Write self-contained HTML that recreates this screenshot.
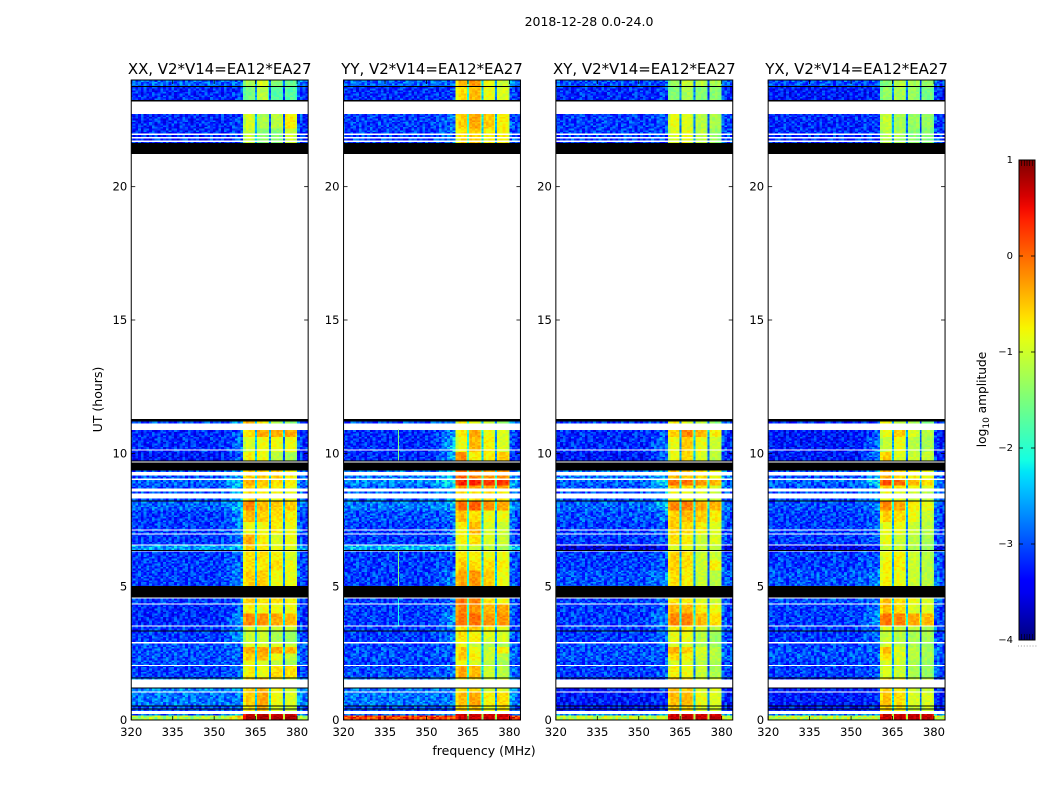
<!DOCTYPE html>
<html lang="en">
<head>
<meta charset="utf-8">
<title>2018-12-28 waterfall</title>
<style>
html,body{margin:0;padding:0;background:#fff;}
svg{display:block;font-family:"DejaVu Sans","Liberation Sans",sans-serif;fill:#000;}
</style>
</head>
<body>
<svg id="chart" xmlns="http://www.w3.org/2000/svg" width="1050" height="800" viewBox="0 0 1050 800">
  <defs>
    <linearGradient id="jet-gradient" x1="0" y1="1" x2="0" y2="0"></linearGradient>
  </defs>
  <rect x="0" y="0" width="1050" height="800" fill="#fff"/>
  <text x="589" y="26" font-size="12.5" text-anchor="middle">2018-12-28 0.0-24.0</text>
  <text x="484" y="755" font-size="12.5" text-anchor="middle">frequency (MHz)</text>
  <text transform="translate(102,399.5) rotate(-90)" font-size="12.5" text-anchor="middle">UT (hours)</text>
  <text transform="translate(986,399.5) rotate(-90)" font-size="12.2" text-anchor="middle">log<tspan font-size="9" dy="3">10</tspan><tspan dy="-3"> amplitude</tspan></text>
  <g id="panels"></g>
  <g id="colorbar"></g>
</svg>
<script>
// ---------- data ----------
const panelTitles = ["XX, V2*V14=EA12*EA27", "YY, V2*V14=EA12*EA27", "XY, V2*V14=EA12*EA27", "YX, V2*V14=EA12*EA27"];
const xTickValues = [320, 335, 350, 365, 380];
const yTickValues = [0, 5, 10, 15, 20];
const colorbarTickValues = [1, 0, -1, -2, -3, -4];

// Lower edge (UT hours) of each time block, top of plot downward
const blockBottoms = [23.73, 23.21, 22.19, 21.63, 10.90, 10.60, 10.04, 9.74, 9.06, 8.84, 8.65, 8.24, 7.86, 7.41, 7.00, 6.55, 6.36, 5.99, 5.61, 5.01, 4.37, 4.03, 3.55, 3.36, 2.92, 2.72, 2.53, 2.23, 2.05, 1.59, 1.07, 0.54, 0.32, 0.17, 0];

// log10 amplitude per block: [floor, edge near 360 MHz, band1, band2, band3, band4]
const levelsXX = [
[-2.8,-2.8,-1.2,-0.9,-1.4,-1.6],[-3.1,-3.0,-1.5,-1.1,-1.7,-1.7],[-3.1,-3.0,-0.9,-1.2,-1.1,-0.7],[-3.1,-3.0,-1.0,-1.4,-1.4,-1.0],
[-2.9,-2.5,-0.3,-0.7,-1.1,-1.4],[-3.1,-2.8,-0.6,-0.3,-0.3,-0.3],[-3.1,-2.7,-0.9,-0.8,-0.8,-0.8],[-3.2,-2.8,-0.7,-0.8,-1.1,-1.2],
[-2.9,-2.4,-0.5,-0.5,-0.5,-0.7],[-2.8,-2.2,-0.3,-0.5,-0.6,-0.7],[-2.9,-2.3,-0.5,-0.6,-0.7,-0.8],[-2.9,-2.3,-0.6,-0.7,-0.8,-0.8],
[-2.8,-2.3,-0.1,-0.4,-0.5,-0.5],[-3.0,-2.5,-0.4,-0.5,-0.6,-0.7],[-3.0,-2.6,-0.8,-0.8,-0.7,-0.8],[-3.0,-2.7,-0.3,-0.7,-0.9,-0.8],
[-2.5,-2.4,-0.5,-0.7,-0.8,-0.9],[-3.0,-2.8,-0.6,-0.6,-0.7,-0.9],[-3.0,-2.7,-0.6,-0.7,-0.6,-0.8],[-3.0,-2.6,-0.5,-0.5,-0.8,-0.8],
[-3.0,-2.8,-0.5,-0.6,-0.6,-0.7],[-3.1,-2.8,-0.7,-0.8,-0.8,-0.8],[-3.1,-2.5,-0.1,-0.2,-0.3,-0.4],[-3.0,-2.7,-0.9,-0.9,-1.0,-1.0],
[-3.0,-2.5,-1.0,-1.0,-1.2,-1.3],[-2.9,-2.7,-0.9,-0.9,-0.9,-1.0],[-2.9,-2.8,-0.3,-0.3,-0.3,-0.4],[-2.9,-2.8,-0.5,-0.4,-0.8,-1.0],
[-2.9,-2.8,-0.8,-0.9,-1.1,-1.2],[-3.0,-2.7,-0.7,-0.8,-0.6,-0.6],[-2.6,-2.6,-0.5,-0.4,-0.7,-1.0],[-2.7,-2.7,-0.5,-0.3,-0.8,-0.9],
[-2.9,-2.8,-0.6,-0.4,-0.9,-1.0],[-2.8,-2.3,0.7,0.7,0.7,0.7],[-1.1,-0.5,0.85,0.85,0.85,0.85]];
const levelsYY = [
[-2.8,-2.7,-0.4,-0.2,-0.8,-1.0],[-3.1,-3.0,-0.6,-0.4,-0.8,-0.9],[-3.0,-2.7,-0.5,-0.3,-0.5,-0.7],[-3.0,-2.7,-0.6,-0.5,-0.7,-0.7],
[-2.9,-2.5,-0.7,-0.8,-1.1,-1.3],[-3.1,-2.5,-0.7,-0.3,-0.8,-0.9],[-3.1,-2.3,-0.8,-0.4,-0.7,-0.9],[-3.1,-2.4,-0.1,-0.7,-0.7,-0.5],
[-2.7,-2.3,0.1,-0.1,-0.2,-0.2],[-2.6,-2.0,0.4,0.4,0.3,0.3],[-2.8,-2.3,-0.2,-0.3,-0.3,-0.3],[-2.8,-2.4,-0.6,-0.6,-0.6,-0.7],
[-2.7,-2.4,0.0,0.1,-0.2,-0.3],[-2.9,-2.7,-0.4,-0.6,-0.8,-0.8],[-3.0,-2.8,-0.7,-0.4,-0.9,-1.0],[-3.0,-2.8,-0.7,-0.6,-0.9,-1.0],
[-2.4,-2.4,-1.0,-1.0,-1.1,-1.2],[-3.0,-2.9,-0.6,-0.7,-0.8,-0.8],[-3.0,-2.9,-0.5,-0.6,-0.6,-0.7],[-3.0,-2.6,-0.3,-0.2,-0.5,-0.8],
[-3.0,-2.8,0.0,-0.1,-0.6,-0.8],[-3.0,-2.7,-0.1,-0.2,-0.4,-0.3],[-3.0,-2.5,0.0,0.0,-0.2,-0.2],[-3.0,-2.7,-0.6,-0.5,-0.7,-0.9],
[-3.0,-2.6,-0.6,-0.7,-0.9,-0.9],[-3.0,-2.8,-0.8,-1.0,-1.2,-1.2],[-2.9,-2.8,-0.5,-0.8,-1.0,-0.7],[-2.9,-2.8,-0.5,-0.7,-1.0,-1.1],
[-3.0,-2.9,-0.8,-0.9,-1.1,-1.2],[-2.9,-2.7,-0.3,-0.4,-1.0,-1.1],[-2.7,-2.7,-0.7,-0.6,-1.0,-0.9],[-2.7,-2.7,-0.4,-0.3,-0.7,-0.6],
[-2.9,-2.9,-0.5,-0.5,-0.8,-0.7],[-2.8,-2.5,0.75,0.7,0.7,0.7],[0.3,0.3,0.7,0.7,0.7,0.7]];
const levelsXY = [
[-2.9,-2.9,-1.3,-1.0,-1.1,-1.2],[-3.1,-3.0,-1.4,-1.2,-1.4,-1.4],[-3.0,-2.9,-0.8,-0.9,-1.1,-1.2],[-3.0,-2.9,-0.9,-0.8,-1.1,-1.3],
[-3.0,-2.8,-0.7,-0.9,-1.1,-1.4],[-3.1,-2.8,-0.5,-0.1,-0.4,-0.7],[-3.1,-2.7,-0.8,-0.5,-0.8,-1.0],[-3.2,-2.8,-0.8,-0.6,-0.9,-1.1],
[-2.7,-2.4,-0.4,-0.5,-0.6,-0.8],[-2.8,-2.0,0.0,0.0,-0.2,-0.4],[-2.9,-2.4,-0.5,-0.6,-0.7,-0.9],[-2.9,-2.5,-0.8,-0.8,-0.9,-1.0],
[-2.8,-2.3,-0.1,-0.1,-0.3,-0.4],[-2.9,-2.7,-0.5,-0.4,-0.5,-0.7],[-3.0,-2.9,-0.5,-0.6,-0.7,-0.9],[-3.0,-2.9,-0.6,-0.7,-1.0,-0.9],
[-3.5,-3.3,-0.9,-0.9,-1.0,-1.1],[-3.0,-2.8,-0.5,-0.6,-1.0,-1.0],[-3.0,-2.8,-0.5,-0.6,-1.0,-0.7],[-2.9,-2.6,-0.6,-0.7,-1.0,-1.1],
[-3.0,-2.8,-0.6,-0.7,-0.9,-1.0],[-3.0,-2.8,-0.4,-0.4,-0.7,-0.8],[-3.0,-2.6,-0.1,-0.1,-0.4,-0.6],[-3.0,-2.8,-0.7,-0.7,-0.9,-1.1],
[-3.0,-2.7,-0.8,-0.8,-1.1,-1.3],[-2.9,-2.8,-0.9,-1.0,-1.2,-1.3],[-2.9,-2.8,-0.3,-0.5,-0.9,-1.1],[-2.9,-2.8,-0.6,-0.7,-1.0,-1.1],
[-3.0,-2.9,-0.9,-0.9,-1.1,-1.2],[-3.0,-2.8,-0.7,-0.8,-1.0,-1.2],[-3.2,-3.0,-0.4,-0.5,-0.9,-0.9],[-3.2,-3.1,-0.4,-0.4,-0.8,-0.9],
[-3.2,-3.1,-0.5,-0.6,-0.9,-1.0],[-2.6,-2.5,0.65,0.65,0.65,0.65],[-1.0,-0.9,0.75,0.75,0.75,0.75]];
const levelsYX = [
[-2.9,-2.9,-1.4,-1.1,-1.2,-1.3],[-3.2,-3.1,-1.3,-1.2,-1.3,-1.5],[-3.1,-3.0,-1.0,-1.2,-1.3,-1.3],[-3.1,-3.0,-1.1,-1.2,-1.4,-1.4],
[-3.1,-2.9,-0.7,-1.0,-1.2,-1.4],[-3.2,-2.8,-0.8,-0.5,-0.9,-1.1],[-3.2,-2.7,-1.0,-0.8,-1.1,-1.2],[-3.2,-2.6,-0.5,-0.9,-1.0,-1.0],
[-2.9,-2.4,-0.3,-0.6,-0.7,-0.8],[-2.8,-2.1,0.2,0.0,-0.4,-0.6],[-2.9,-2.5,-0.5,-0.6,-0.8,-0.9],[-2.9,-2.5,-0.8,-0.9,-1.0,-1.1],
[-2.9,-2.6,-0.1,-0.3,-0.7,-0.8],[-3.0,-2.8,-0.5,-0.6,-0.8,-1.0],[-3.0,-2.8,-0.8,-0.8,-1.0,-1.1],[-3.0,-2.8,-0.8,-1.0,-1.1,-1.2],
[-3.4,-3.2,-1.0,-1.0,-1.2,-1.3],[-3.0,-2.8,-0.8,-0.7,-1.0,-1.1],[-3.0,-2.8,-0.7,-0.7,-1.0,-1.1],[-2.9,-2.6,-0.7,-0.8,-1.0,-1.1],
[-2.9,-2.7,-0.4,-0.6,-0.8,-0.9],[-3.0,-2.7,-0.4,-0.6,-0.9,-0.9],[-3.0,-2.5,0.0,-0.1,-0.3,-0.4],[-3.0,-2.7,-0.9,-1.0,-1.1,-1.2],
[-3.0,-2.7,-1.0,-1.1,-1.2,-1.2],[-3.0,-2.8,-0.9,-1.1,-1.2,-1.3],[-2.9,-2.8,-0.4,-0.9,-1.1,-1.2],[-2.9,-2.8,-0.6,-0.9,-1.1,-1.2],
[-3.0,-2.9,-0.9,-1.0,-1.2,-1.3],[-3.0,-2.8,-0.9,-1.0,-1.2,-1.3],[-3.2,-3.1,-0.5,-0.7,-1.0,-1.0],[-3.2,-3.1,-0.4,-0.6,-0.9,-0.9],
[-3.2,-3.1,-0.5,-0.7,-1.0,-1.0],[-2.7,-2.5,0.7,0.7,0.7,0.7],[-1.0,-1.0,0.75,0.75,0.75,0.75]];
const panelLevels = [levelsXX, levelsYY, levelsXY, levelsYX];

// Channel-gap level (log10) at the three sub-band boundaries, per panel
const gapFrequencies = [365.1, 370.2, 375.2];
const gapLevels = [[-2.4,-2.8,-2.8],[-2.0,-2.4,-2.6],[-2.6,-2.7,-2.9],[-2.5,-2.7,-2.8]];
const bandEdges = [360.5, 365, 370, 375, 380];

// Narrow interference line in YY: panel, MHz, level, UT top, UT bottom
const rfiPanel = [1, 1, 1, 1];
const rfiFrequency = [339.7, 339.7, 339.7, 339.7];
const rfiLevel = [-1.5, -1.5, -1.7, -2.1];
const rfiTop = [10.9, 6.36, 5.02, 4.6];
const rfiBottom = [9.74, 5.02, 4.6, 3.55];

// Flagged time ranges (UT hours) [top, bottom]
const flagsWhite = [[23.19,22.72],[21.98,21.93],[21.86,21.82],[21.73,21.67],[21.22,11.29],[11.10,10.90],[10.15,10.11],[9.70,9.66],[9.29,9.17],[9.06,9.02],[8.66,8.57],[8.47,8.30],[7.14,7.11],[7.00,6.97],[6.59,6.55],[4.37,4.35],[3.55,3.52],[2.91,2.88],[2.07,2.05],[1.52,1.44],[1.42,1.26],[1.07,1.04],[0.33,0.23]];
const flagsBlack = [[23.77,23.73],[23.25,23.19],[21.64,21.22],[11.29,11.20],[9.74,9.70],[9.66,9.36],[8.24,8.21],[6.37,6.34],[5.02,4.59],[3.36,3.33],[1.59,1.57],[1.22,1.19],[0.54,0.52],[0.44,0.42]];

// Estimated speckle residuals read as digits 0-9 (centre 5.5 leaves the floor slightly deep)
const speckleTile = [
"47261938504726193058471629384",
"83150472968315072496183057294",
"25794160382579406138257941603",
"61038527496103852749610385274",
"39472816053947281605394728160",
"70516394287051639428705163942",
"14829057361482905736148290573",
"58360741925836074192583607419",
"92647130589264713058926471305",
"36081495723608149572360814957",
"74915268037491526803749152680",
"07352894160735289416073528941",
"51684023795168402379516840237",
"28407619352840761935284076193",
"63190782456319078245631907824",
"85726341098572634109857263410",
"19543870621954387062195438706"];

// ---------- axis helpers ----------
const NS = "http://www.w3.org/2000/svg";
const panelLefts = [131.25, 343.55, 555.85, 768.15];
const panelWidth = 176.9;
const plotTop = 80, plotBottom = 720;
const rowStep = 0.0625;
function xScale(panel, mhz){ return panelLefts[panel] + (mhz - 320) / 64 * panelWidth; }
function yScale(hours){ return plotBottom - hours / 24 * (plotBottom - plotTop); }
function cbScale(v){ return 640 - (v + 4) / 5 * 480; }
function ramp(t, pts){
  for (let i = 1; i < pts.length; i++) {
    if (t <= pts[i][0]) {
      const a = pts[i-1], b = pts[i];
      return a[1] + (b[1]-a[1]) * (t-a[0]) / (b[0]-a[0]);
    }
  }
  return pts[pts.length-1][1];
}
function jet(t){
  t = Math.max(0, Math.min(1, t));
  const r = ramp(t, [[0,0],[0.35,0],[0.66,1],[0.89,1],[1,0.5]]);
  const g = ramp(t, [[0,0],[0.125,0],[0.375,1],[0.64,1],[0.91,0],[1,0]]);
  const b = ramp(t, [[0,0.5],[0.11,1],[0.34,1],[0.65,0],[1,0]]);
  return "rgb(" + Math.round(r*255) + "," + Math.round(g*255) + "," + Math.round(b*255) + ")";
}
function levelColor(v){ return jet((v + 4) / 5); }
function blockIndexAt(h){
  for (let i = 0; i < blockBottoms.length; i++) { if (h >= blockBottoms[i]) return i; }
  return blockBottoms.length - 1;
}
function isFlagged(h){
  const inside = function(f){ return h <= f[0] && h >= f[1]; };
  return flagsWhite.some(inside) || flagsBlack.some(inside);
}
function speckle(row, col, panel){
  const line = speckleTile[(row + panel * 7) % speckleTile.length];
  const ch = line.charCodeAt((col + panel * 5 + (row % 3) * 11) % line.length) - 48;
  return (ch - 5.5) * 0.095;
}
function cellLevel(block, mhz, row, col, panel){
  const v = block, n = speckle(row, col, panel);
  if (mhz < 352) return v[0] + n;
  if (mhz < bandEdges[0]) return v[0] + (v[1] - v[0]) * (mhz - 352) / (bandEdges[0] - 352) + n;
  if (mhz < bandEdges[4]) {
    let k = 0;
    while (mhz >= bandEdges[k + 1]) k++;
    const nearEdge = (mhz - bandEdges[k] < 0.8 || bandEdges[k + 1] - mhz < 0.8) ? 0.2 : 0;
    return v[2 + k] - nearEdge + n * 0.35;
  }
  return v[0] + (mhz < 382 ? 0.15 : 0) + n;
}
// Channel boundaries: 1 MHz wide, aligned so a boundary falls on 360.5 and on 380
function channelEdges(){
  const edges = [320];
  for (let f = 320.5; f < 380; f += 1) edges.push(f);
  for (let f = 380; f <= 384; f += 1) edges.push(f);
  return edges;
}

// ---------- drawing ----------
const panelsRoot = document.getElementById("panels");
const frag = document.createDocumentFragment();
const columns = channelEdges();

panelTitles.forEach(function(title, p){
  const g = document.createElementNS(NS, "g");
  
  

  const cells = document.createElementNS(NS, "g");
  
  
  cells.setAttribute("shape-rendering", "crispEdges");

  const rows = Math.round(24 / rowStep);
  for (let r = 0; r < rows; r++) {
    const hBottom = r * rowStep, hTop = hBottom + rowStep, hMid = hBottom + rowStep / 2;
    if (isFlagged(hMid)) continue;
    const block = panelLevels[p][blockIndexAt(hMid)];
    const yTop = yScale(hTop), rowH = yScale(hBottom) - yTop;
    for (let c = 0; c + 1 < columns.length; c++) {
      const f0 = columns[c], f1 = columns[c + 1];
      const level = cellLevel(block, (f0 + f1) / 2, r, c, p);
      const cell = document.createElementNS(NS, "rect");
      
      
      cell.setAttribute("x", xScale(p, f0).toFixed(2));
      cell.setAttribute("y", yTop.toFixed(2));
      cell.setAttribute("width", (xScale(p, f1) - xScale(p, f0) + 0.3).toFixed(2));
      cell.setAttribute("height", (rowH + 0.3).toFixed(2));
      cell.setAttribute("fill", levelColor(level));
      cells.appendChild(cell);
    }
    gapFrequencies.forEach(function(f, k){
      const bandValue = block[2 + k];
      const level = Math.max(gapLevels[p][k] + 0.25 * (bandValue + 0.8), bandValue - 1.9) + speckle(r, k * 9, p) * 0.5;
      const gap = document.createElementNS(NS, "rect");
      
      
      gap.setAttribute("x", xScale(p, f - 0.35).toFixed(2));
      gap.setAttribute("y", yTop.toFixed(2));
      gap.setAttribute("width", (xScale(p, f + 0.35) - xScale(p, f - 0.35)).toFixed(2));
      gap.setAttribute("height", (rowH + 0.3).toFixed(2));
      gap.setAttribute("fill", levelColor(level));
      cells.appendChild(gap);
    });
  }

  rfiPanel.forEach(function(owner, i){
    if (owner !== p) return;
    const line = document.createElementNS(NS, "rect");
    
    
    line.setAttribute("x", xScale(p, rfiFrequency[i]).toFixed(2));
    line.setAttribute("y", yScale(rfiTop[i]).toFixed(2));
    line.setAttribute("width", "1");
    line.setAttribute("height", (yScale(rfiBottom[i]) - yScale(rfiTop[i])).toFixed(2));
    line.setAttribute("fill", levelColor(rfiLevel[i]));
    cells.appendChild(line);
  });

  [[flagsWhite, "#fff", "flag-white"], [flagsBlack, "#000", "flag-black"]].forEach(function(spec){
    spec[0].forEach(function(f){
      const flag = document.createElementNS(NS, "rect");
      
      
      flag.setAttribute("x", panelLefts[p].toFixed(2));
      flag.setAttribute("y", yScale(f[0]).toFixed(2));
      flag.setAttribute("width", panelWidth.toFixed(2));
      flag.setAttribute("height", Math.max(1, yScale(f[1]) - yScale(f[0])).toFixed(2));
      flag.setAttribute("fill", spec[1]);
      cells.appendChild(flag);
    });
  });
  g.appendChild(cells);

  const frame = document.createElementNS(NS, "rect");
  
  
  frame.setAttribute("x", panelLefts[p]);
  frame.setAttribute("y", plotTop);
  frame.setAttribute("width", panelWidth);
  frame.setAttribute("height", plotBottom - plotTop);
  frame.setAttribute("fill", "none");
  frame.setAttribute("stroke", "#000");
  frame.setAttribute("stroke-width", "1");
  g.appendChild(frame);

  xTickValues.forEach(function(v){
    const x = xScale(p, v);
    [[plotBottom, plotBottom - 4], [plotTop, plotTop + 4]].forEach(function(pair){
      const tick = document.createElementNS(NS, "line");
      
      
      tick.setAttribute("x1", x);
      tick.setAttribute("x2", x);
      tick.setAttribute("y1", pair[0]);
      tick.setAttribute("y2", pair[1]);
      tick.setAttribute("stroke", "#000");
      tick.setAttribute("stroke-width", "0.8");
      g.appendChild(tick);
    });
    const label = document.createElementNS(NS, "text");
    
    
    label.setAttribute("x", x);
    label.setAttribute("y", 736);
    label.setAttribute("font-size", "11.6");
    label.setAttribute("text-anchor", "middle");
    label.textContent = String(v);
    g.appendChild(label);
  });

  yTickValues.forEach(function(v){
    const y = yScale(v);
    [[panelLefts[p], panelLefts[p] + 4], [panelLefts[p] + panelWidth, panelLefts[p] + panelWidth - 4]].forEach(function(pair){
      const tick = document.createElementNS(NS, "line");
      
      
      tick.setAttribute("x1", pair[0]);
      tick.setAttribute("x2", pair[1]);
      tick.setAttribute("y1", y);
      tick.setAttribute("y2", y);
      tick.setAttribute("stroke", "#000");
      tick.setAttribute("stroke-width", "0.8");
      g.appendChild(tick);
    });
    const label = document.createElementNS(NS, "text");
    
    
    label.setAttribute("x", panelLefts[p] - 4);
    label.setAttribute("y", y + 4);
    label.setAttribute("font-size", "11.6");
    label.setAttribute("text-anchor", "end");
    label.textContent = String(v);
    g.appendChild(label);
  });

  const titleEl = document.createElementNS(NS, "text");
  
  
  titleEl.setAttribute("x", panelLefts[p] + panelWidth / 2);
  titleEl.setAttribute("y", 74);
  titleEl.setAttribute("font-size", "14.95");
  titleEl.setAttribute("text-anchor", "middle");
  titleEl.textContent = title;
  g.appendChild(titleEl);

  frag.appendChild(g);
});
panelsRoot.appendChild(frag);

// ---------- colorbar ----------
const gradient = document.getElementById("jet-gradient");
for (let i = 0; i <= 40; i++) {
  const stop = document.createElementNS(NS, "stop");
  stop.setAttribute("offset", (i / 40).toFixed(3));
  stop.setAttribute("stop-color", jet(i / 40));
  gradient.appendChild(stop);
}
const cbRoot = document.getElementById("colorbar");
const cbLeft = 1019, cbRight = 1035;
const cbBar = document.createElementNS(NS, "rect");


cbBar.setAttribute("x", cbLeft);
cbBar.setAttribute("y", cbScale(1));
cbBar.setAttribute("width", cbRight - cbLeft);
cbBar.setAttribute("height", cbScale(-4) - cbScale(1));
cbBar.setAttribute("fill", "url(#jet-gradient)");
cbBar.setAttribute("stroke", "#000");
cbBar.setAttribute("stroke-width", "1");
cbRoot.appendChild(cbBar);

colorbarTickValues.forEach(function(v){
  const y = cbScale(v);
  [[cbLeft, cbLeft + 4], [cbRight, cbRight - 4]].forEach(function(pair){
    const tick = document.createElementNS(NS, "line");
    
    
    tick.setAttribute("x1", pair[0]);
    tick.setAttribute("x2", pair[1]);
    tick.setAttribute("y1", y);
    tick.setAttribute("y2", y);
    tick.setAttribute("stroke", "#000");
    tick.setAttribute("stroke-width", "0.8");
    cbRoot.appendChild(tick);
  });
  const label = document.createElementNS(NS, "text");
  
  
  label.setAttribute("x", 1013);
  label.setAttribute("y", y + 3);
  label.setAttribute("font-size", "10");
  label.setAttribute("text-anchor", "end");
  label.textContent = v < 0 ? "\u2212" + Math.abs(v) : String(v);
  cbRoot.appendChild(label);
});

for (let i = 1; i <= 5; i++) {
  const x = cbLeft + i * (cbRight - cbLeft) / 6;
  [[160, 166], [640, 634]].forEach(function(pair){
    const tick = document.createElementNS(NS, "line");
    
    
    tick.setAttribute("x1", x);
    tick.setAttribute("x2", x);
    tick.setAttribute("y1", pair[0]);
    tick.setAttribute("y2", pair[1]);
    tick.setAttribute("stroke", "#000");
    tick.setAttribute("stroke-width", "0.6");
    cbRoot.appendChild(tick);
  });
}
for (let i = 0; i <= 6; i++) {
  const dot = document.createElementNS(NS, "rect");
  
  
  dot.setAttribute("x", cbLeft - 1 + i * 2.9);
  dot.setAttribute("y", 645.5);
  dot.setAttribute("width", "1");
  dot.setAttribute("height", "1");
  dot.setAttribute("fill", "#999");
  cbRoot.appendChild(dot);
}
</script>
</body>
</html>
